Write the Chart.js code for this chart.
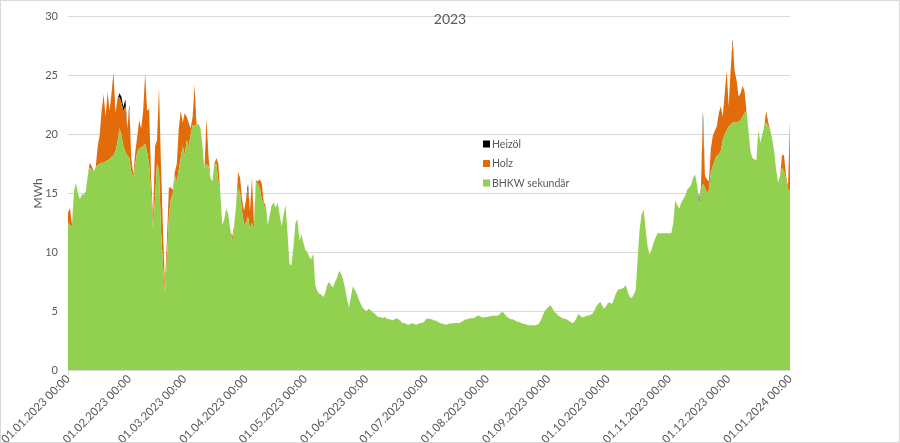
<!DOCTYPE html>
<html>
<head>
<meta charset="utf-8">
<script src="https://cdn.jsdelivr.net/npm/chart.js@4/dist/chart.umd.min.js"></script>
<style>
html,body{margin:0;padding:0;background:#fff;}
#wrap{position:relative;width:900px;height:443px;}
</style>
</head>
<body>
<div id="wrap"><canvas id="chart" width="900" height="443"></canvas></div>
<script>
// Tagesdaten 2023 (MWh), je Zeile ein Monat, letzter Wert = 01.01.2024
const bhkw = [
  12.5,12.3,12.2,15.1,15.9,15.0,14.5,14.9,14.9,15.2,16.5,17.2,17.0,16.9,17.2,17.4,17.5,17.6,17.6,17.7,17.8,17.9,18.1,18.2,18.6,19.3,20.5,20.0,19.0,18.5,18.2,
  18.0,16.8,16.3,17.5,18.5,18.8,18.9,19.0,19.2,18.5,17.5,15.0,12.0,14.5,17.5,17.0,12.0,9.0,6.5,9.5,13.0,14.5,15.0,16.5,16.0,17.0,18.0,19.0,
  18.2,19.5,19.0,20.0,20.8,20.8,20.8,20.9,20.5,19.0,17.0,17.5,17.3,16.3,16.0,17.5,17.5,16.0,15.0,12.3,12.8,13.7,13.2,12.0,10.8,12.0,14.0,15.5,15.0,13.5,12.3,
  12.5,13.0,12.0,12.5,12.0,16.0,15.8,15.4,14.5,14.0,14.0,12.3,13.2,14.0,14.2,13.8,14.2,13.2,12.2,13.2,14.0,11.5,9.0,8.9,10.5,12.5,12.8,11.0,11.5,10.8,
  10.2,10.0,9.6,9.4,9.9,7.2,6.7,6.5,6.4,6.2,6.5,7.2,7.5,7.2,7.0,7.5,7.8,8.4,8.2,7.7,7.0,6.1,5.3,6.2,7.1,6.8,6.5,6.0,5.6,5.3,5.1,
  5.0,5.2,5.1,4.9,4.8,4.6,4.5,4.5,4.4,4.5,4.4,4.3,4.3,4.2,4.3,4.4,4.3,4.2,4.0,4.0,3.9,3.85,3.9,4.0,3.9,3.85,3.9,4.0,4.0,4.1,
  4.3,4.4,4.3,4.3,4.2,4.2,4.1,4.0,3.95,3.9,3.85,3.9,3.95,3.95,4.0,4.0,4.0,4.0,4.1,4.2,4.3,4.3,4.4,4.4,4.4,4.5,4.6,4.6,4.5,4.45,4.5,
  4.5,4.55,4.6,4.6,4.6,4.6,4.7,4.9,4.9,4.7,4.5,4.4,4.3,4.3,4.2,4.1,4.1,4.0,3.95,3.9,3.85,3.8,3.8,3.8,3.8,3.85,3.9,4.2,4.6,5.0,5.2,
  5.4,5.5,5.2,4.9,4.8,4.6,4.5,4.4,4.35,4.3,4.2,4.1,4.0,4.1,4.4,4.75,4.6,4.45,4.5,4.6,4.6,4.7,4.75,5.0,5.4,5.6,5.8,5.5,5.2,5.4,
  5.7,5.7,5.6,6.0,6.5,6.8,6.85,6.9,7.0,7.2,6.6,6.2,6.1,6.4,6.8,9.5,12.0,13.2,13.6,12.0,10.5,9.8,10.2,10.8,11.2,11.6,11.6,11.6,11.6,11.6,11.6,
  11.6,11.6,12.5,14.4,14.0,13.7,14.2,14.5,14.8,15.3,15.5,15.7,16.3,16.6,15.7,14.0,15.4,15.8,15.5,15.0,15.3,16.8,17.3,17.8,18.2,18.3,18.6,19.5,20.0,20.3,
  20.7,20.8,21.0,21.0,21.0,21.1,21.2,21.5,21.8,22.0,20.3,18.6,18.0,17.9,17.8,20.4,19.3,20.0,20.7,21.0,20.7,20.4,19.6,18.6,17.0,15.9,16.5,17.2,16.8,16.2,15.3,
  15.3
];
const holz = [
  0.9,1.4,0.2,0,0,0,0,0,0,0,0,0.4,0.3,0,0,1.6,2.4,4.4,5.8,3.8,5.8,4.1,5.4,7.1,3.2,3.7,2.7,2.7,3.0,3.9,2.3,
  4.2,1.2,0.3,1.0,1.3,2.4,1.6,3.0,6.0,3.5,4.7,1.5,0.8,4.5,2.0,7.0,5.5,3.0,0.8,1.5,2.5,1.0,0.3,0.3,1.5,3.5,4.0,2.0,
  3.6,2.0,2.0,0.5,0.7,3.4,0,0,0,0,0,3.9,0.9,0,0,0,0.5,1.5,0,0,0,0,0,0,0.5,0.3,0,1.3,1.3,1.0,1.2,
  2.0,2.4,1.5,3.8,0.5,0.1,0.2,0.8,1.3,0.2,0,0,0,0,0,0,0,0,0,0,0,0,0,0,0,0,0,0,0,0,
  0,0,0,0,0,0,0,0,0,0,0,0,0,0,0,0,0,0,0,0,0,0,0,0,0,0,0,0,0,0,0,
  0,0,0,0,0,0,0,0,0,0,0,0,0,0,0,0,0,0,0,0,0,0,0,0,0,0,0,0,0,0,
  0,0,0,0,0,0,0,0,0,0,0,0,0,0,0,0,0,0,0,0,0,0,0,0,0,0,0,0,0,0,0,
  0,0,0,0,0,0,0,0,0,0,0,0,0,0,0,0,0,0,0,0,0,0,0,0,0,0,0,0,0,0,0,
  0,0,0,0,0,0,0,0,0,0,0,0,0,0,0,0,0,0,0,0,0,0,0,0,0,0,0,0,0,0,
  0,0,0,0,0,0,0,0,0,0,0,0,0,0,0,0,0,0,0,0,0,0,0,0,0,0,0,0,0,0,0,
  0,0,0,0,0,0,0,0,0,0,0,0,0,0,0,0,0.2,5.5,1.0,1.2,0.7,2.0,2.6,2.5,2.5,3.5,3.8,2.0,3.5,5.1,
  1.7,4.7,6.8,4.4,3.6,2.1,2.3,2.6,1.9,0,0,0,0,0,0,0,0,0,0,1.0,0.3,0,0,0,0,0,0,1.1,1.4,0.3,0.3,
  5.9
];
const heizoel = [
  0,0,0,0,0,0,0,0,0,0,0,0,0,0,0,0,0,0,0,0,0,0,0,0,0,0,0.3,0.5,0.3,0.6,0,
  0.3,0,0,0,0,0,0,0,0,0,0,0,0,0,0,0,0,0,0,0,0,0,0,0,0,0,0,0,
  0,0,0,0,0,0,0,0,0,0,0,0,0,0,0,0,0,0,0,0,0,0,0,0,0,0,0,0,0,0,0,
  0,0.4,0,0,0,0,0,0,0,0,0,0,0,0,0,0,0,0,0,0,0,0,0,0,0,0,0,0,0,0,
  0,0,0,0,0,0,0,0,0,0,0,0,0,0,0,0,0,0,0,0,0,0,0,0,0,0,0,0,0,0,0,
  0,0,0,0,0,0,0,0,0,0,0,0,0,0,0,0,0,0,0,0,0,0,0,0,0,0,0,0,0,0,
  0,0,0,0,0,0,0,0,0,0,0,0,0,0,0,0,0,0,0,0,0,0,0,0,0,0,0,0,0,0,0,
  0,0,0,0,0,0,0,0,0,0,0,0,0,0,0,0,0,0,0,0,0,0,0,0,0,0,0,0,0,0,0,
  0,0,0,0,0,0,0,0,0,0,0,0,0,0,0,0,0,0,0,0,0,0,0,0,0,0,0,0,0,0,
  0,0,0,0,0,0,0,0,0,0,0,0,0,0,0,0,0,0,0,0,0,0,0,0,0,0,0,0,0,0,0,
  0,0,0,0,0,0,0,0,0,0,0,0,0,0,0,0.4,0,0.7,0,0,0,0,0,0,0,0,0,0,0,0,
  0,0,0.3,0,0,0,0,0,0,0,0,0,0,0,0,0,0,0,0,0,0,0,0,0,0,0,0,0,0,0,0,
  0
];
const yTicks = [0,5,10,15,20,25,30];

// Kategorien: jeder Tag 01.01.2023 .. 01.01.2024
const labels = [];
const pad = n => String(n).padStart(2,'0');
for (let d = new Date(Date.UTC(2023,0,1)); d.getTime() <= Date.UTC(2024,0,1); d.setUTCDate(d.getUTCDate()+1)) {
  labels.push(pad(d.getUTCDate())+'.'+pad(d.getUTCMonth()+1)+'.'+d.getUTCFullYear()+' 00:00');
}
const isMonthStart = i => labels[i] && labels[i].startsWith('01.');

const FONT = 'Lato, "Open Sans", sans-serif';
const GREY = '#595959';

const extras = {
  id:'extras',
  afterDraw(chart){
    const c = chart.ctx;
    c.save();
    // Rahmen
    c.strokeStyle = '#d9d9d9'; c.lineWidth = 1;
    c.strokeRect(0.5, 0.5, chart.width-1, chart.height-1);
    // Titel
    c.fillStyle = GREY; c.font = '14px '+FONT; c.textAlign = 'center'; c.textBaseline = 'middle';
    c.fillText('2023', 450, 19);
    // Legende
    c.font = '10.5px '+FONT; c.textAlign = 'left';
    chart.data.datasets.slice().reverse().forEach((ds,k)=>{
      const y = 144 + k*19.5;
      c.fillStyle = ds.backgroundColor; c.fillRect(483, y-3.5, 7, 7);
      c.fillStyle = GREY; c.fillText(ds.label, 492, y+0.5);
    });
    c.restore();
  }
};

new Chart(document.getElementById('chart').getContext('2d'), {
  type:'line',
  data:{
    labels,
    datasets:[
      {label:'BHKW sekundär', data:bhkw, backgroundColor:'#92D050', fill:'origin'},
      {label:'Holz', data:holz, backgroundColor:'#E36C0A', fill:'-1'},
      {label:'Heizöl', data:heizoel, backgroundColor:'#000000', fill:'-1'}
    ]
  },
  options:{
    responsive:false, animation:false, devicePixelRatio:1,
    layout:{padding:{left:0, right:110, top:12, bottom:0}},
    elements:{point:{radius:0}, line:{tension:0, borderWidth:0, borderColor:'rgba(0,0,0,0)'}},
    plugins:{legend:{display:false}, tooltip:{enabled:false}},
    scales:{
      x:{
        stacked:true,
        grid:{drawOnChartArea:false, tickLength:5, color:ctx=>isMonthStart(ctx.index)?'#d9d9d9':'rgba(0,0,0,0)'},
        border:{display:false},
        ticks:{autoSkip:false, maxRotation:45, minRotation:45, padding:-3, color:GREY, font:{family:FONT, size:11.5},
          callback:(v,i)=>isMonthStart(i)?labels[i]:null},
        afterFit:s=>{s.height = 73;}
      },
      y:{
        stacked:true, min:0, max:30,
        afterBuildTicks:s=>{s.ticks = yTicks.map(v=>({value:v}));},
        grid:{color:'#d9d9d9', drawTicks:false},
        border:{display:false},
        ticks:{padding:10, color:GREY, font:{family:FONT, size:11}},
        title:{display:true, text:'MWh', color:GREY, font:{family:FONT, size:12}, padding:{top:31, bottom:0}},
        afterFit:s=>{s.width = 68;}
      }
    }
  },
  plugins:[extras]
});
</script>
</body>
</html>
